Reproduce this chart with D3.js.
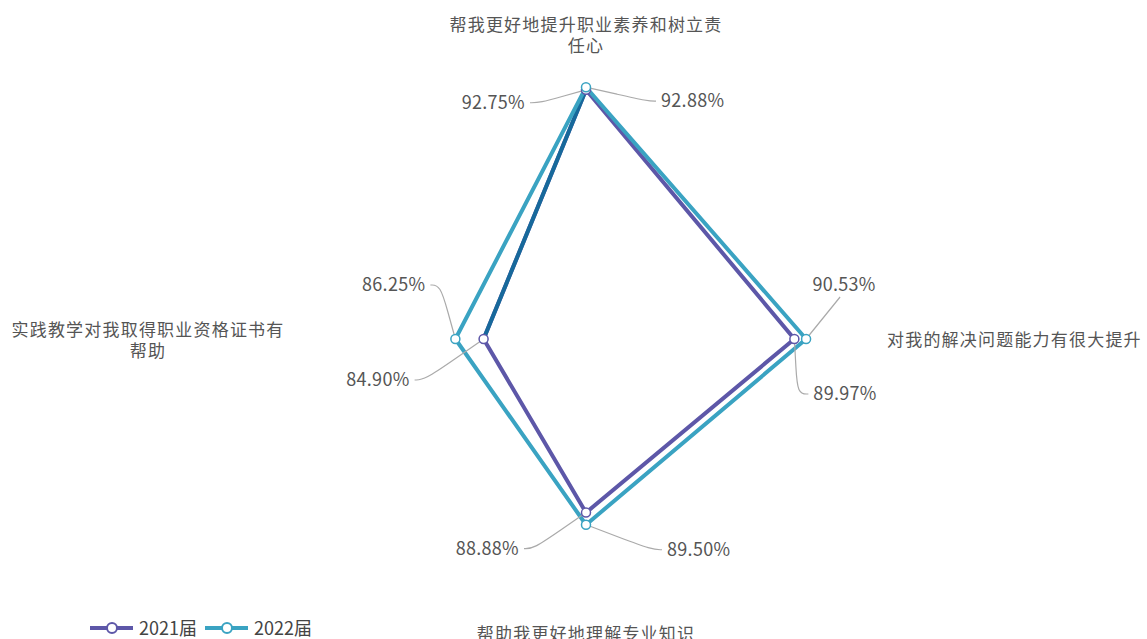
<!DOCTYPE html>
<html lang="zh">
<head>
<meta charset="UTF-8">
<title>Radar</title>
<script src="https://d3js.org/d3.v7.min.js"></script>
<style>
  body { margin: 0; background: #fff; }
  text { font-family: "Microsoft YaHei", "Noto Sans CJK SC", sans-serif; }
</style>
</head>
<body>
<svg id="chart" width="1147" height="639"></svg>
<script>
// indicators, counter-clockwise from top (like echarts radar)
var indicators = [
  ["帮我更好地提升职业素养和树立责", "任心"],
  ["实践教学对我取得职业资格证书有", "帮助"],
  ["帮助我更好地理解专业知识"],
  ["对我的解决问题能力有很大提升"]
];
var seriesNames = ["2021届", "2022届"];
var values2021 = [92.75, 84.90, 88.88, 89.97];
var values2022 = [92.88, 86.25, 89.50, 90.53];
var colors = ["#5d57a8", "#3aa3c2"];

// label leader offsets per point: [elbow dx, dy, end dx, dy, anchor]
var labelLayout = [
  [[-46, 13, -56, 13, "end"], [-59, 41, -69, 41, "end"], [-52, 36, -62, 36, "end"], [3, 55, 14, 55, "start"]],
  [[62, 14, 70, 14, "start"], [-15, -54, -25, -54, "end"], [66, 25, 76, 25, "start"], [34, -42, 34, -42, "above"]]
];

var svg = d3.select("#chart");
var cx = 586, cy = 339;

// elliptic radial scale (picture is slightly squashed vertically)
var rx = d3.scaleLinear().domain([80, 100]).range([0, 418]);
var ry = d3.scaleLinear().domain([80, 100]).range([0, 391]);

function angle(i) { return -Math.PI / 2 - i * Math.PI / 2; }
function pt(v, i) {
  var a = angle(i);
  return [cx + rx(v) * Math.cos(a), cy + ry(v) * Math.sin(a)];
}

var allSeries = [values2021, values2022];
var line = d3.line().curve(d3.curveLinearClosed);

// axis names
var namePos = [
  {x: cx, y: 31, anchor: "middle"},
  {x: 148, y: 336, anchor: "middle"},
  {x: cx, y: 640, anchor: "middle"},
  {x: 887, y: 346, anchor: "start"}
];
indicators.forEach(function (lines, i) {
  var t = svg.append("text")
    .attr("x", namePos[i].x).attr("y", namePos[i].y)
    .attr("text-anchor", namePos[i].anchor)
    .attr("font-size", 17).attr("letter-spacing", 1.2).attr("fill", "#555");
  lines.forEach(function (l, j) {
    t.append("tspan").attr("x", namePos[i].x).attr("dy", j === 0 ? 0 : 21).text(l);
  });
});

// polygons
allSeries.forEach(function (vals, s) {
  var pts = vals.map(pt);
  svg.append("path")
    .attr("d", line(pts))
    .attr("fill", "none")
    .attr("stroke", colors[s])
    .attr("stroke-width", 4)
    .attr("stroke-linejoin", "round");
  if (s === 0) {
    // the top-left edge of 2021 shows in a darker blue
    svg.append("path")
      .attr("d", d3.line()([pts[0], pts[1]]))
      .attr("stroke", "#17699b").attr("stroke-width", 4).attr("fill", "none");
  }
});

// points, leader lines, labels
allSeries.forEach(function (vals, s) {
  vals.forEach(function (v, i) {
    var p = pt(v, i);
    var L = labelLayout[s][i];
    var e = [p[0] + L[0], p[1] + L[1]];
    var f = [p[0] + L[2], p[1] + L[3]];
    svg.append("path")
      .attr("d", d3.line().curve(d3.curveBasis)([p, [ (p[0] + e[0]) / 2, (p[1] + e[1]) / 2 ], e, f]))
      .attr("fill", "none").attr("stroke", "#aaa").attr("stroke-width", 1.2);
    var tx, ty, anchor;
    if (L[4] === "above") { tx = f[0] + 4; ty = f[1] - 6; anchor = "middle"; }
    else if (L[4] === "end") { tx = f[0] - 5; ty = f[1] + 6; anchor = "end"; }
    else { tx = f[0] + 5; ty = f[1] + 6; anchor = "start"; }
    svg.append("text")
      .attr("x", tx).attr("y", ty)
      .attr("text-anchor", anchor)
      .attr("font-size", 18).attr("letter-spacing", 0.3).attr("fill", "#555")
      .text(v.toFixed(2) + "%");
  });
});

allSeries.forEach(function (vals, s) {
  svg.selectAll(null).data(vals).enter().append("circle")
    .attr("cx", function (d, i) { return pt(d, i)[0]; })
    .attr("cy", function (d, i) { return pt(d, i)[1]; })
    .attr("r", 4.5)
    .attr("fill", "#fff")
    .attr("stroke", colors[s])
    .attr("stroke-width", 1.5);
});

// legend
var legend = svg.append("g").attr("transform", "translate(90,628)");
seriesNames.forEach(function (name, s) {
  var g = legend.append("g").attr("transform", "translate(" + (s * 115) + ",0)");
  g.append("line").attr("x1", 0).attr("x2", 43).attr("y1", 0).attr("y2", 0)
    .attr("stroke", colors[s]).attr("stroke-width", 4);
  g.append("circle").attr("cx", 22).attr("cy", 0).attr("r", 5)
    .attr("fill", "#fff").attr("stroke", colors[s]).attr("stroke-width", 2);
  g.append("text").attr("x", 49).attr("y", 7)
    .attr("font-size", 18).attr("fill", "#444").text(name);
});
</script>
</body>
</html>
